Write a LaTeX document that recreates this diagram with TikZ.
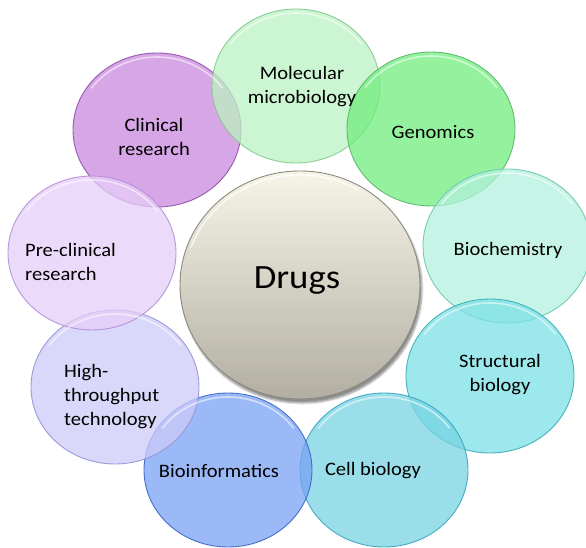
\documentclass[tikz,border=0pt]{standalone}
\usepackage{fontspec}
\setmainfont{Carlito}[FakeStretch=1.08]
\usetikzlibrary{shapes.geometric,shadows.blur}

% fills (used at 75% opacity) and rims of the outer discs
\definecolor{clinF}{RGB}{202,136,222}\definecolor{clinD}{RGB}{142,78,166}
\definecolor{molF}{RGB}{187,242,195}\definecolor{molD}{RGB}{130,200,142}
\definecolor{genF}{RGB}{112,238,126}\definecolor{genD}{RGB}{90,180,104}
\definecolor{bioF}{RGB}{179,240,222}\definecolor{bioD}{RGB}{112,196,176}
\definecolor{strF}{RGB}{123,224,230}\definecolor{strD}{RGB}{56,172,182}
\definecolor{celF}{RGB}{120,211,227}\definecolor{celD}{RGB}{54,164,190}
\definecolor{infF}{RGB}{122,162,243}\definecolor{infD}{RGB}{56,100,200}
\definecolor{htF}{RGB}{204,203,248}\definecolor{htD}{RGB}{150,146,214}
\definecolor{preF}{RGB}{230,206,248}\definecolor{preD}{RGB}{178,142,214}
\definecolor{drugTop}{RGB}{247,244,232}\definecolor{drugBot}{RGB}{178,174,162}
\definecolor{drugRim}{RGB}{140,137,128}

\begin{document}
\begin{tikzpicture}[x=1pt,y=-1pt,
  disc/.style 2 args={ellipse, inner sep=0pt, minimum width=168pt, minimum height=154pt,
    fill=#1, fill opacity=0.75, draw=#2, line width=0.9pt, draw opacity=0.9},
  gloss/.style={white, line width=1.6pt, draw opacity=0.55, line cap=round},
  lbl/.style={font=\fontsize{19}{24}\selectfont, align=center, inner sep=0pt, text=black},
  lbll/.style={lbl, align=left, anchor=west}]
\useasboundingbox (0,0) rectangle (586,548);

% outer ring of disciplines
\node[disc={clinF}{clinD}] (clin) at (157,130) {};
\node[disc={molF}{molD}]   (mol)  at (296,86) {};
\node[disc={genF}{genD}]   (gen)  at (431,129) {};
\node[disc={bioF}{bioD}]   (bio)  at (507,246) {};
\node[disc={strF}{strD}]   (str)  at (490,376) {};
\node[disc={celF}{celD}]   (cel)  at (384,470) {};
\node[disc={infF}{infD}]   (inf)  at (228,470) {};
\node[disc={htF}{htD}]     (ht)   at (115,387) {};
\node[disc={preF}{preD}]   (pre)  at (92,253) {};

% soft highlight just inside the upper rim of each disc
\foreach \d in {clin,mol,gen,bio,str,cel,inf,ht,pre}
  \draw[gloss] ([shift={(215:80 and 73)}]\d.center)
    arc[start angle=215, end angle=325, x radius=80, y radius=73];

% central disc
\node[ellipse, inner sep=0pt, minimum width=240pt, minimum height=228pt,
  top color=drugTop, bottom color=drugBot, draw=drugRim, line width=0.9pt,
  blur shadow={shadow xshift=2pt, shadow yshift=-4pt, shadow blur steps=6, shadow opacity=45}]
  (drugs) at (300,285) {};
\draw[gloss, draw opacity=0.7] ([shift={(200:116 and 110)}]drugs.center)
  arc[start angle=200, end angle=300, x radius=116, y radius=110];

% labels
\node[font=\fontsize{34}{40}\selectfont, inner sep=0pt] (drugsT) at (297,281) {Drugs};
\node[lbl] (clinT) at (154,137) {Clinical\\research};
\node[lbl] (molT)  at (302,87)  {Molecular\\microbiology};
\node[lbl] (genT)  at (433,132) {Genomics};
\node[lbl] (bioT)  at (508,250) {Biochemistry};
\node[lbl] (strT)  at (500,375) {Structural\\biology};
\node[lbl] (celT)  at (373,471) {Cell biology};
\node[lbl] (infT)  at (219,471) {Bioinformatics};
\node[lbll] (htT)  at (64,397)  {High-\\throughput\\technology};
\node[lbll] (preT) at (25,262)  {Pre-clinical\\research};
\end{tikzpicture}
\end{document}
